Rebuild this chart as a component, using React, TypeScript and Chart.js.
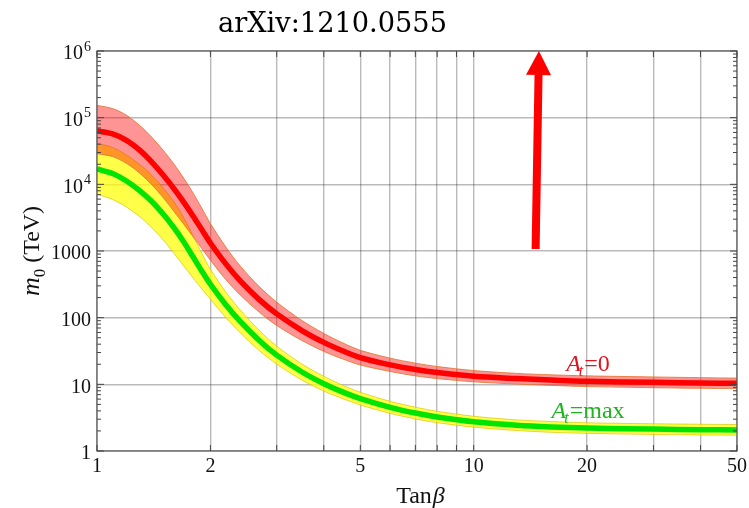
import React, { useEffect, useRef } from "react";
import { Chart, registerables } from "chart.js";

Chart.register(...registerables);

// ---- data ----
const tanBeta = [1, 1.1, 1.2, 1.3, 1.4, 1.5, 1.6, 1.7, 1.8, 1.9, 2, 2.2, 2.4, 2.7, 3, 3.5, 4, 4.5, 5, 6, 7, 8, 10, 13, 16, 20, 30, 40, 50];

// A_t = 0 (red line + pink band)
const redCenter = [63100, 57100, 45400, 32300, 21400, 13700, 8610, 5360, 3330, 2070, 1320, 635, 356, 185, 114, 64.1, 42.6, 31.6, 25.2, 19.6, 16.7, 15.0, 13.2, 12.2, 11.6, 11.1, 10.7, 10.5, 10.35];
const redUpper = [153000, 137000, 108000, 76000, 50200, 32200, 20200, 12300, 7380, 4340, 2580, 1140, 597, 290, 171, 90.6, 58.1, 41.6, 32.4, 24.7, 20.8, 18.5, 16.1, 14.6, 13.9, 13.4, 12.9, 12.6, 12.4];
const redLower = [28800, 26100, 20500, 14600, 9790, 6280, 3940, 2510, 1630, 1080, 728, 370, 219, 120, 76.2, 45.4, 31.2, 23.9, 19.5, 15.6, 13.4, 12.2, 10.9, 10.1, 9.64, 9.25, 8.91, 8.73, 8.61];

// A_t = max (green line + yellow band)
const greenCenter = [16980, 14550, 11120, 7980, 5480, 3570, 2250, 1365, 811, 493, 317, 155, 87.7, 45.1, 27.4, 15.3, 10.23, 7.64, 6.11, 4.52, 3.71, 3.24, 2.75, 2.44, 2.30, 2.21, 2.13, 2.09, 2.07];
const yellowUpper = [41200, 35700, 27300, 19600, 13500, 8770, 5470, 3130, 1670, 908, 532, 240, 130, 63.7, 37.4, 20.1, 13.2, 9.62, 7.60, 5.56, 4.54, 3.94, 3.32, 2.93, 2.77, 2.65, 2.56, 2.52, 2.49];
const yellowLower = [7080, 5930, 4530, 3250, 2230, 1460, 929, 596, 393, 268, 189, 100, 59.3, 31.9, 20.1, 11.6, 7.94, 6.07, 4.91, 3.67, 3.03, 2.66, 2.28, 2.03, 1.91, 1.84, 1.77, 1.74, 1.73];

// axes
const xGridValues = [1, 2, 3, 4, 5, 6, 7, 8, 9, 10, 20, 30, 40, 50];
const xTickLabels = [1, 2, 5, 10, 20, 50];
const yTickValues = [1, 10, 100, 1000, 1e4, 1e5, 1e6];
const yTickLabels = ["1", "10", "100", "1000", "10^4", "10^5", "10^6"];
const yMinorFactors = [2, 3, 4, 5, 6, 7, 8, 9];

// annotations
const titleText = "arXiv:1210.0555";
const arrowFrom = { x: 14.6, y: 1070 };
const arrowTo = { x: 14.9, y: 1e6 };
const labelA0 = { x: 17.6, y: 20.9, rest: "=0" };
const labelAmax = { x: 16.1, y: 4.12, rest: "=max" };

const SERIF = '"Liberation Serif", "DejaVu Serif", serif';

function pts(ys: number[]) {
  return tanBeta.map((x, i) => ({ x, y: ys[i] }));
}

const decorPlugin = {
  id: "decor",
  afterDraw(chart: any) {
    const ctx = chart.ctx as CanvasRenderingContext2D;
    const xs = chart.scales.x;
    const ys = chart.scales.y;
    const { left, right, top, bottom } = chart.chartArea;
    ctx.save();

    // frame
    ctx.strokeStyle = "#5a5a5a";
    ctx.lineWidth = 1.2;
    ctx.strokeRect(left, top, right - left, bottom - top);

    // inner ticks on axes
    ctx.strokeStyle = "#444";
    ctx.lineWidth = 1;
    for (const d of yTickValues) {
      const py = ys.getPixelForValue(d);
      ctx.beginPath();
      ctx.moveTo(left, py); ctx.lineTo(left + 7, py);
      ctx.moveTo(right, py); ctx.lineTo(right - 7, py);
      ctx.stroke();
      if (d < 1e6) {
        for (const k of yMinorFactors) {
          const pm = ys.getPixelForValue(d * k);
          ctx.beginPath();
          ctx.moveTo(left, pm); ctx.lineTo(left + 4, pm);
          ctx.moveTo(right, pm); ctx.lineTo(right - 4, pm);
          ctx.stroke();
        }
      }
    }
    for (const v of xGridValues) {
      const px = xs.getPixelForValue(v);
      ctx.beginPath();
      ctx.moveTo(px, bottom); ctx.lineTo(px, bottom - 6);
      ctx.moveTo(px, top); ctx.lineTo(px, top + 6);
      ctx.stroke();
    }

    // tick labels
    ctx.fillStyle = "#111";
    ctx.textBaseline = "middle";
    ctx.font = `20px ${SERIF}`;
    ctx.textAlign = "center";
    for (const v of xTickLabels) {
      ctx.fillText(String(v), xs.getPixelForValue(v), bottom + 16);
    }
    ctx.textAlign = "left";
    yTickValues.forEach((v, i) => {
      const py = ys.getPixelForValue(v) + 3;
      const lab = yTickLabels[i];
      const rx = left - 6;
      if (lab.includes("^")) {
        const [base, exp] = lab.split("^");
        ctx.font = `20px ${SERIF}`;
        const wb = ctx.measureText(base).width;
        ctx.font = `14px ${SERIF}`;
        const we = ctx.measureText(exp).width;
        const sx = rx - wb - we - 1;
        ctx.font = `20px ${SERIF}`;
        ctx.fillText(base, sx, py);
        ctx.font = `14px ${SERIF}`;
        ctx.fillText(exp, sx + wb + 1, py - 7);
      } else {
        ctx.font = `20px ${SERIF}`;
        const w = ctx.measureText(lab).width;
        ctx.fillText(lab, rx - w, py);
      }
    });

    // x axis title: Tan β
    ctx.textBaseline = "alphabetic";
    {
      ctx.font = `24px ${SERIF}`;
      const w1 = ctx.measureText("Tan").width;
      ctx.font = `italic 24px ${SERIF}`;
      const w2 = ctx.measureText("β").width;
      const cx = (left + right) / 2 + 3;
      const sx = cx - (w1 + w2) / 2;
      ctx.font = `24px ${SERIF}`;
      ctx.fillText("Tan", sx, 503);
      ctx.font = `italic 24px ${SERIF}`;
      ctx.fillText("β", sx + w1 + 1, 503);
    }

    // y axis title: m0 (TeV)
    {
      ctx.save();
      ctx.translate(39, (top + bottom) / 2);
      ctx.rotate(-Math.PI / 2);
      ctx.font = `italic 26px ${SERIF}`;
      const wm = ctx.measureText("m").width;
      ctx.font = `17px ${SERIF}`;
      const w0 = ctx.measureText("0").width;
      ctx.font = `24px ${SERIF}`;
      const wt = ctx.measureText(" (TeV)").width;
      const x0 = -(wm + w0 + wt) / 2;
      ctx.font = `italic 26px ${SERIF}`;
      ctx.fillText("m", x0, 0);
      ctx.font = `17px ${SERIF}`;
      ctx.fillText("0", x0 + wm, 6);
      ctx.font = `24px ${SERIF}`;
      ctx.fillText(" (TeV)", x0 + wm + w0, 0);
      ctx.restore();
    }

    // curve labels
    const drawAt = (lab: any, color: string) => {
      const px = xs.getPixelForValue(lab.x);
      const py = ys.getPixelForValue(lab.y) + 8;
      ctx.fillStyle = color;
      ctx.font = `italic 24px ${SERIF}`;
      ctx.fillText("A", px, py);
      const wa = ctx.measureText("A").width;
      ctx.font = `italic 16px ${SERIF}`;
      ctx.fillText("t", px + wa - 2, py + 5);
      const wt = ctx.measureText("t").width;
      ctx.font = `24px ${SERIF}`;
      ctx.fillText(lab.rest, px + wa + wt - 1, py);
    };
    drawAt(labelA0, "#e0141e");
    drawAt(labelAmax, "#1fb41f");

    // arrow
    {
      const x0 = xs.getPixelForValue(arrowFrom.x);
      const y0 = ys.getPixelForValue(arrowFrom.y);
      const x1 = xs.getPixelForValue(arrowTo.x);
      const y1 = ys.getPixelForValue(arrowTo.y);
      const headLen = 24;
      const headHalf = 12.5;
      const ang = Math.atan2(y1 - y0, x1 - x0);
      const bx = x1 - headLen * Math.cos(ang);
      const by = y1 - headLen * Math.sin(ang);
      ctx.strokeStyle = "#ff0000";
      ctx.fillStyle = "#ff0000";
      ctx.lineWidth = 8;
      ctx.lineCap = "butt";
      ctx.beginPath();
      ctx.moveTo(x0, y0);
      ctx.lineTo(bx, by);
      ctx.stroke();
      const nx = -Math.sin(ang), ny = Math.cos(ang);
      ctx.beginPath();
      ctx.moveTo(x1, y1);
      ctx.lineTo(bx + nx * headHalf, by + ny * headHalf);
      ctx.lineTo(bx - nx * headHalf, by - ny * headHalf);
      ctx.closePath();
      ctx.fill();
    }

    // title
    {
      ctx.fillStyle = "#000";
      ctx.font = `27px "DejaVu Serif", serif`;
      const w = ctx.measureText(titleText).width;
      const target = 229;
      ctx.save();
      ctx.translate(218, 32);
      ctx.scale(target / w, 1);
      ctx.fillText(titleText, 0, 0);
      ctx.restore();
    }

    ctx.restore();
  },
};

export default function App() {
  const ref = useRef<HTMLCanvasElement | null>(null);
  useEffect(() => {
    if (!ref.current) return;
    const gridColor = "rgba(0,0,0,0.27)";
    const chart = new Chart(ref.current, {
      type: "line",
      data: {
        datasets: [
          {
            data: pts(yellowUpper),
            borderColor: "rgba(215,200,0,0.7)",
            borderWidth: 1,
            backgroundColor: "rgba(255,255,0,0.72)",
            fill: 1,
            order: 6,
          },
          {
            data: pts(yellowLower),
            borderColor: "rgba(215,200,0,0.7)",
            borderWidth: 1,
            fill: false,
            order: 5,
          },
          {
            data: pts(redUpper),
            borderColor: "rgba(225,120,50,0.85)",
            borderWidth: 1,
            backgroundColor: "rgba(255,0,0,0.42)",
            fill: 3,
            order: 4,
          },
          {
            data: pts(redLower),
            borderColor: "rgba(225,120,50,0.85)",
            borderWidth: 1,
            fill: false,
            order: 3,
          },
          {
            data: pts(greenCenter),
            borderColor: "#00e400",
            borderWidth: 5.5,
            fill: false,
            order: 2,
          },
          {
            data: pts(redCenter),
            borderColor: "#ff0000",
            borderWidth: 5.5,
            fill: false,
            order: 1,
          },
        ],
      },
      options: {
        responsive: false,
        animation: false,
        devicePixelRatio: 1,
        layout: { padding: { left: 0, right: 12, top: 51, bottom: 0 } },
        plugins: {
          legend: { display: false },
          tooltip: { enabled: false },
          title: { display: false },
        },
        elements: {
          point: { radius: 0 },
          line: { tension: 0.3, capBezierPoints: true },
        },
        scales: {
          x: {
            type: "logarithmic",
            min: 1,
            max: 50,
            afterBuildTicks: (s: any) => {
              s.ticks = xGridValues.map((v) => ({ value: v }));
            },
            afterFit: (s: any) => {
              s.height = 57;
            },
            ticks: { display: false },
            grid: { color: gridColor, lineWidth: 1.4, drawTicks: false },
            border: { display: false },
          },
          y: {
            type: "logarithmic",
            min: 1,
            max: 1e6,
            afterBuildTicks: (s: any) => {
              s.ticks = yTickValues.map((v) => ({ value: v }));
            },
            afterFit: (s: any) => {
              s.width = 97;
            },
            ticks: { display: false },
            grid: { color: gridColor, lineWidth: 1.4, drawTicks: false },
            border: { display: false },
          },
        },
      } as any,
      plugins: [decorPlugin],
    });
    return () => chart.destroy();
  }, []);

  return (
    <div style={{ position: "fixed", left: 0, top: 0, width: 749, height: 508, background: "#fff" }}>
      <canvas ref={ref} width={749} height={508} style={{ display: "block", width: 749, height: 508 }} />
    </div>
  );
}
